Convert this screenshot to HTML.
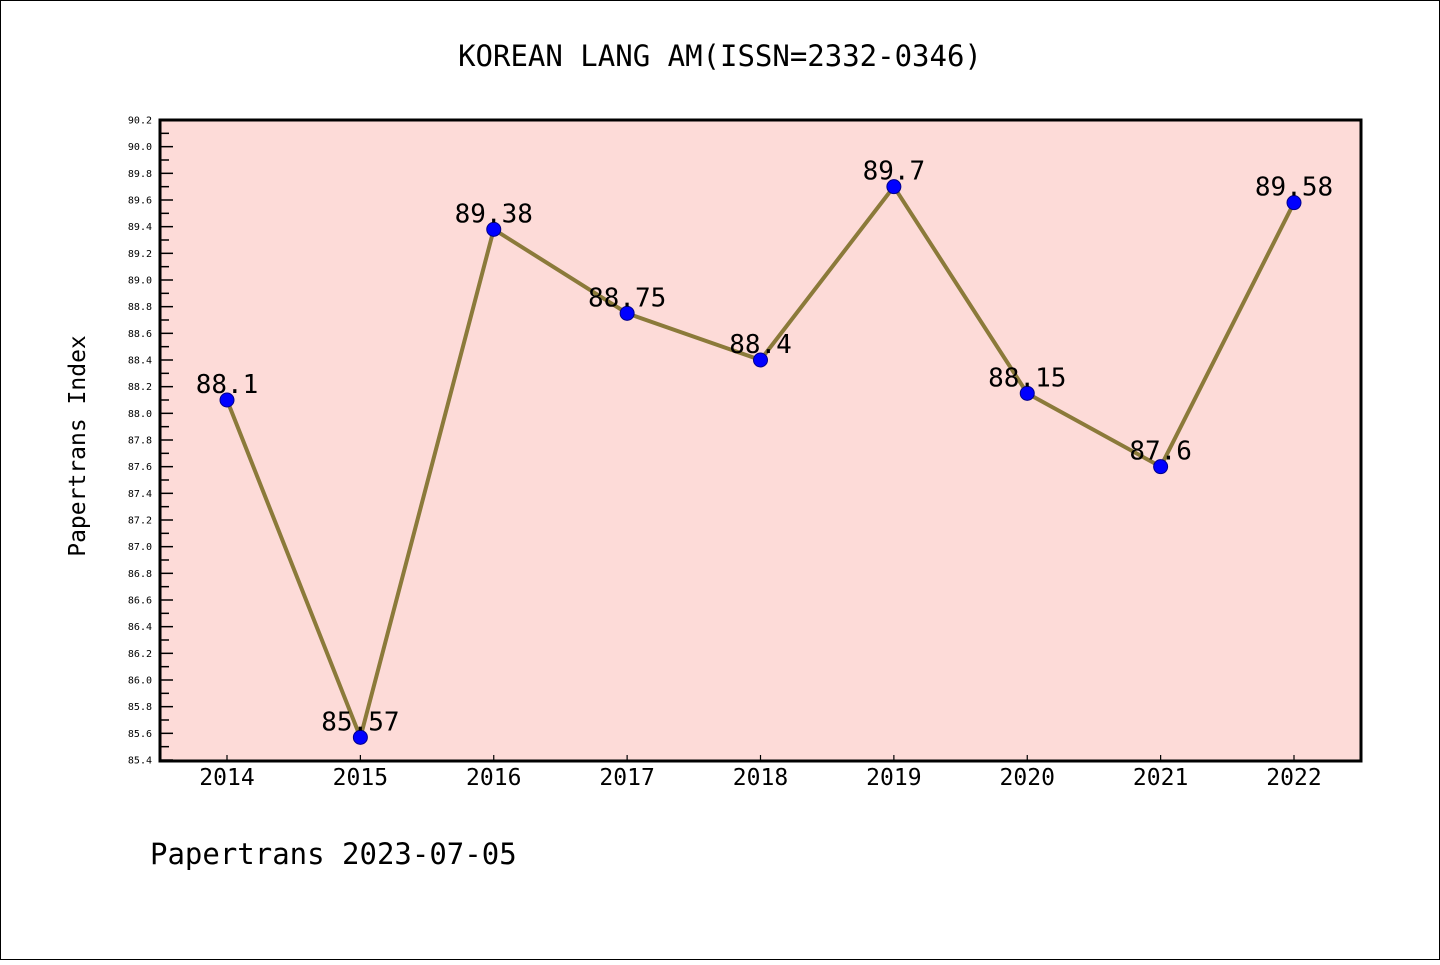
<!DOCTYPE html>
<html><head><meta charset="utf-8"><style>
body{margin:0;background:#fff;}
svg text{font-family:"DejaVu Sans Mono","Liberation Mono",monospace;}
</style></head><body>
<svg width="1440" height="960" xmlns="http://www.w3.org/2000/svg">
<rect x="0.5" y="0.5" width="1439" height="959" fill="#fff" stroke="#000"/>
<text x="720" y="66" font-size="29" text-anchor="middle">KOREAN LANG AM(ISSN=2332-0346)</text>
<rect x="160" y="120" width="1201" height="641" fill="#fddbd8"/>
<g id="axes"></g>
<g id="series"></g>
<rect x="160" y="120" width="1201" height="641" fill="none" stroke="#000" stroke-width="3"/>
<text x="85" y="446" font-size="23" text-anchor="middle" transform="rotate(-90 85 446)">Papertrans Index</text>
<text x="150" y="864" font-size="29">Papertrans 2023-07-05</text>
</svg>
<script>
const years=["2014","2015","2016","2017","2018","2019","2020","2021","2022"];
const values=[88.1,85.57,89.38,88.75,88.4,89.7,88.15,87.6,89.58];
const labels=["88.1","85.57","89.38","88.75","88.4","89.7","88.15","87.6","89.58"];
const yMin=85.4,yMax=90.2;
const NS="http://www.w3.org/2000/svg";
function xs(i){return 227+i*(1294-227)/(years.length-1);}
function ys(v){return 760-(v-yMin)/(yMax-yMin)*640;}
function mk(t,a,p){const e=document.createElementNS(NS,t);for(const k in a)e.setAttribute(k,a[k]);p.appendChild(e);return e;}
const ax=document.getElementById('axes'),sr=document.getElementById('series');
for(let k=0;k<=48;k++){const v=yMin+k*0.1;const y=ys(v);const major=k%2===0;
 const t=mk('line',{x1:160,x2:major?173:169,y1:y,y2:y,stroke:'#000','stroke-width':1.5},ax);
 
 
 if(major){const tx=mk('text',{x:152,y:y+3.5,'font-size':10,'text-anchor':'end'},ax);tx.textContent=v.toFixed(1);
 
 }}
years.forEach((yr,i)=>{const x=xs(i);
 const t=mk('line',{x1:x,x2:x,y1:761,y2:755,stroke:'#000','stroke-width':1.2},ax);
 
 
 const tx=mk('text',{x:x,y:785,'font-size':23,'text-anchor':'middle'},ax);tx.textContent=yr;
 
 });
const pl=mk('polyline',{points:values.map((v,i)=>xs(i)+','+ys(v)).join(' '),fill:'none',stroke:'#8b7a3a','stroke-width':4,'stroke-linejoin':'round'},sr);


values.forEach((v,i)=>{
 const c=mk('circle',{cx:xs(i),cy:ys(v),r:7,fill:'#0000ff',stroke:'#00008b','stroke-width':1},sr);
 
 
 const tx=mk('text',{x:xs(i),y:ys(v)-7,'font-size':26,'text-anchor':'middle'},sr);tx.textContent=labels[i];
 
 });
</script>
</body></html>
